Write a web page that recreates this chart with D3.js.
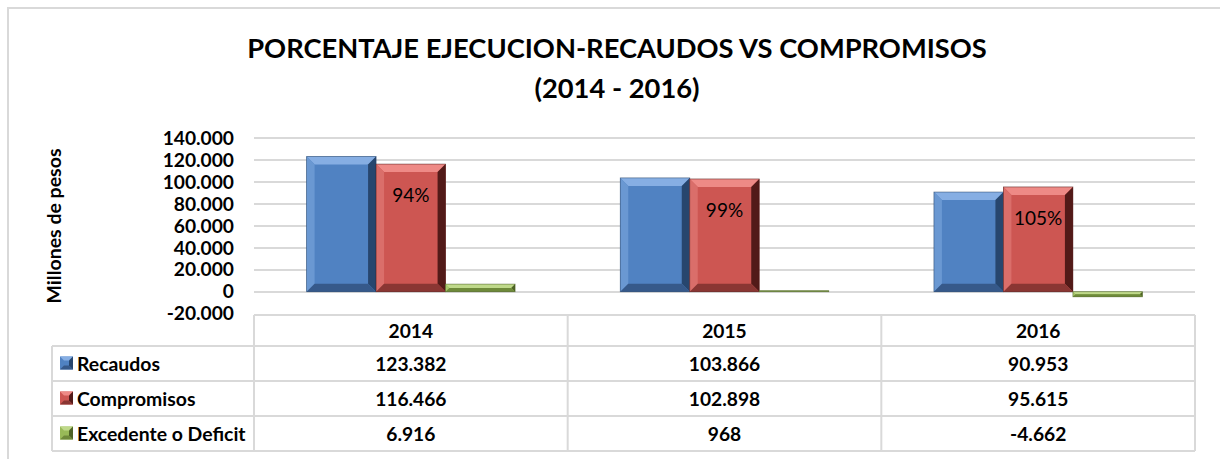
<!DOCTYPE html>
<html><head><meta charset="utf-8">
<script src="https://cdn.jsdelivr.net/npm/d3@7"></script>
<style>
html,body{margin:0;padding:0;background:#fff;}
svg text{font-family:Lato,"Open Sans",sans-serif;}
</style></head>
<body>
<svg id="chart" width="1220" height="459"></svg>
<script>
const years = ["2014", "2015", "2016"];
const seriesNames = ["Recaudos", "Compromisos", "Excedente o Deficit"];
const recaudos = [123382, 103866, 90953];
const compromisos = [116466, 102898, 95615];
const excedente = [6916, 968, -4662];
const yTicks = [-20000, 0, 20000, 40000, 60000, 80000, 100000, 120000, 140000];
const titleLines = ["PORCENTAJE EJECUCION-RECAUDOS VS COMPROMISOS", "(2014 - 2016)"];
const yLabel = "Millones de pesos";

const seriesValues = [recaudos, compromisos, excedente];
const palette = {
  "Recaudos": {face:"#5082C2", top:"#86AEE3", left:"#6A98D2", right:"#27466E", bottom:"#36598A"},
  "Compromisos": {face:"#CD5652", top:"#EE8A86", left:"#DA6E6A", right:"#521A18", bottom:"#8A3633"},
  "Excedente o Deficit": {face:"#98BA58", top:"#BFD98A", left:"#A8C86C", right:"#4E6327", bottom:"#6E8A3A"}
};

const loc = d3.formatLocale({decimal:",", thousands:".", grouping:[3], currency:["",""], minus:"-"});
const fmt = loc.format(",d");

const svg = d3.select("#chart");

// outer frame
svg.append("path").attr("d","M8,459 V8 H1220").attr("fill","none").attr("stroke","#d9d9d9").attr("stroke-width",2);

const plotL = 254, plotR = 1195;
const y = d3.scaleLinear().domain([-20000, 140000]).range([313.6, 138.3]);
const x = d3.scaleBand().domain(years).range([plotL, plotR]).padding(0);
const xs = d3.scaleBand().domain(seriesNames).range([0, x.bandwidth()]).paddingInner(0).paddingOuter(0.757);

// title
svg.append("text").attr("x", 617).attr("y", 58).attr("text-anchor","middle")
  .attr("font-size", 27.3).attr("font-weight","bold").attr("fill","#000").text(titleLines[0]);
svg.append("text").attr("x", 617).attr("y", 98).attr("text-anchor","middle")
  .attr("font-size", 27.3).attr("font-weight","bold").attr("fill","#000").text(titleLines[1]);

// gridlines
const gridTicks = yTicks.filter(t => t > yTicks[0]);
svg.append("g").selectAll("line").data(gridTicks).join("line")
  .attr("x1", plotL).attr("x2", plotR)
  .attr("y1", d => Math.round(y(d))).attr("y2", d => Math.round(y(d)))
  .attr("stroke", "#d9d9d9").attr("stroke-width", 2);

// y axis labels
const yAxis = d3.axisLeft(y).tickValues(yTicks).tickFormat(fmt).tickSize(0).tickPadding(0);
const gy = svg.append("g").attr("transform", "translate(234,0)").call(yAxis);
gy.select(".domain").remove();
gy.selectAll("text").attr("font-size", 19.2).attr("font-weight","bold").attr("fill","#000")
  .attr("font-family","Lato,'Open Sans',sans-serif");

svg.append("text").attr("transform","translate(61,226) rotate(-90)").attr("text-anchor","middle")
  .attr("font-size", 19.5).attr("font-weight","bold").attr("fill","#000").text(yLabel);

// bevel bars
function bevelBar(g, x0, w, v, col) {
  const y0 = y(0), y1 = y(v);
  const top = Math.min(y0, y1), h = Math.max(Math.abs(y1 - y0), 1);
  const b = Math.min(8, h / 2, w / 2);
  const X0 = x0, X1 = x0 + w, Y0 = top, Y1 = top + h;
  const bar = g.append("g");
  bar.append("rect").attr("x", X0).attr("y", Y0).attr("width", w).attr("height", h).attr("fill", col.face);
  const poly = (pts, c) => bar.append("polygon").attr("points", pts.map(p => p.join(",")).join(" ")).attr("fill", c);
  poly([[X0,Y0],[X1,Y0],[X1-b,Y0+b],[X0+b,Y0+b]], col.top);
  poly([[X0,Y0],[X0+b,Y0+b],[X0+b,Y1-b],[X0,Y1]], col.left);
  poly([[X1,Y0],[X1,Y1],[X1-b,Y1-b],[X1-b,Y0+b]], col.right);
  poly([[X0,Y1],[X0+b,Y1-b],[X1-b,Y1-b],[X1,Y1]], col.bottom);
  bar.append("rect").attr("x", X0).attr("y", Y0).attr("width", w).attr("height", h)
    .attr("fill","none").attr("stroke", d3.color(col.right).darker(0.3)).attr("stroke-width", 0.8).attr("opacity",0.6);
}

const barsG = svg.append("g");
years.forEach((yr, i) => {
  seriesNames.forEach((s, j) => {
    bevelBar(barsG, x(yr) + xs(s), xs.bandwidth(), seriesValues[j][i], palette[s]);
  });
});

// percentage labels
years.forEach((yr, i) => {
  const pct = Math.round(compromisos[i] / recaudos[i] * 100) + "%";
  svg.append("text").attr("x", x(yr) + xs("Compromisos") + xs.bandwidth() / 2)
    .attr("y", y(compromisos[i]) + 38).attr("text-anchor","middle")
    .attr("font-size", 19).attr("fill","#000").text(pct);
});

// data table
const rowY = [315, 346, 381, 416, 451];
const tableL = 52;
const tg = svg.append("g");
const lineC = "#d9d9d9";
tg.append("line").attr("x1", plotL).attr("x2", plotR).attr("y1", rowY[0]).attr("y2", rowY[0]).attr("stroke", lineC).attr("stroke-width", 2);
rowY.slice(1).forEach(ry => tg.append("line").attr("x1", tableL).attr("x2", plotR).attr("y1", ry).attr("y2", ry).attr("stroke", lineC).attr("stroke-width", 2));
tg.append("line").attr("x1", tableL).attr("x2", tableL).attr("y1", rowY[1]).attr("y2", rowY[4]).attr("stroke", lineC).attr("stroke-width", 2);
years.concat(["end"]).forEach((yr, i) => {
  const xx = i < years.length ? x(yr) : plotR;
  tg.append("line").attr("x1", xx).attr("x2", xx).attr("y1", rowY[0]).attr("y2", rowY[4]).attr("stroke", lineC).attr("stroke-width", 2);
});
years.forEach(yr => {
  tg.append("text").attr("x", x(yr) + x.bandwidth() / 2).attr("y", (rowY[0] + rowY[1]) / 2 + 7)
    .attr("text-anchor","middle").attr("font-size", 19.2).attr("font-weight","bold").text(yr);
});
seriesNames.forEach((s, j) => {
  const cy = (rowY[j + 1] + rowY[j + 2]) / 2;
  const col = palette[s];
  const kx = 60, ks = 13, ky = cy - ks / 2 - 0.5;
  const kb = 4;
  tg.append("rect").attr("x", kx).attr("y", ky).attr("width", ks).attr("height", ks).attr("fill", col.face);
  const poly = (pts, c) => tg.append("polygon").attr("points", pts.map(p => p.join(",")).join(" ")).attr("fill", c);
  poly([[kx,ky],[kx+ks,ky],[kx+ks-kb,ky+kb],[kx+kb,ky+kb]], col.top);
  poly([[kx+ks,ky],[kx+ks,ky+ks],[kx+ks-kb,ky+ks-kb],[kx+ks-kb,ky+kb]], col.right);
  poly([[kx,ky+ks],[kx+kb,ky+ks-kb],[kx+ks-kb,ky+ks-kb],[kx+ks,ky+ks]], col.bottom);
  tg.append("text").attr("x", 77).attr("y", cy + 7).attr("font-size", 19.4).attr("font-weight","bold").text(s);
  years.forEach((yr, i) => {
    tg.append("text").attr("x", x(yr) + x.bandwidth() / 2).attr("y", cy + 7)
      .attr("text-anchor","middle").attr("font-size", 19.2).attr("font-weight","bold").text(fmt(seriesValues[j][i]));
  });
});
</script>
</body></html>
